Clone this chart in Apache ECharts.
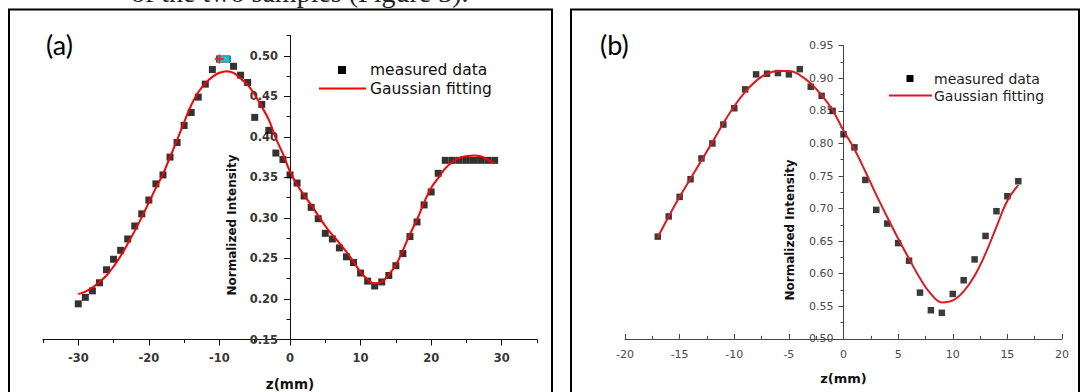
<!DOCTYPE html>
<html><head><meta charset="utf-8">
<script src="https://cdn.jsdelivr.net/npm/echarts@6/dist/echarts.min.js"></script>
<style>html,body{margin:0;padding:0;background:#fff}#c{width:1086px;height:392px}</style>
</head><body><div id="c"></div>
<script>
// ---------- Panel (a) ----------
const zA = [-30,-29,-28,-27,-26,-25,-24,-23,-22,-21,-20,-19,-18,-17,-16,-15,-14,-13,-12,-11,-10,-9,-8,-7,-6,-5,-4,-3,-2,-1,0,1,2,3,4,5,6,7,8,9,10,11,12,13,14,15,16,17,18,19,20,21,22,23,24,25,26,27,28,29];
const measuredA = [0.194,0.202,0.210,0.220,0.236,0.249,0.260,0.274,0.290,0.305,0.322,0.342,0.353,0.375,0.393,0.414,0.430,0.449,0.465,0.483,0.496,0.496,0.487,0.476,0.467,0.424,0.440,0.408,0.380,0.372,0.353,0.343,0.327,0.313,0.299,0.281,0.274,0.263,0.252,0.245,0.232,0.222,0.216,0.221,0.229,0.241,0.256,0.277,0.295,0.316,0.332,0.355,0.371,0.371,0.371,0.371,0.371,0.371,0.371,0.371];
const fitA = [0.206,0.209,0.214,0.221,0.229,0.240,0.253,0.268,0.284,0.301,0.319,0.337,0.354,0.375,0.396,0.418,0.439,0.455,0.466,0.474,0.479,0.481,0.479,0.472,0.464,0.452,0.437,0.421,0.398,0.379,0.357,0.341,0.328,0.316,0.303,0.290,0.279,0.269,0.258,0.246,0.233,0.224,0.219,0.221,0.230,0.242,0.260,0.280,0.298,0.319,0.337,0.349,0.361,0.369,0.374,0.376,0.377,0.376,0.372,0.367];
const xTicksA = [-30,-20,-10,0,10,20,30];
const xMinorA = [-35,-25,-15,-5,5,15,25,35];
const yTicksA = [0.15,0.20,0.25,0.30,0.35,0.40,0.45,0.50];
const yMinorA = [0.175,0.225,0.275,0.325,0.375,0.425,0.475,0.525];
const cursorIndexA = 20; // highlighted (cursor) point at z = -10

// ---------- Panel (b) ----------
const zB = [-17,-16,-15,-14,-13,-12,-11,-10,-9,-8,-7,-6,-5,-4,-3,-2,-1,0,1,2,3,4,5,6,7,8,9,10,11,12,13,14,15,16];
const measuredB = [0.657,0.688,0.718,0.745,0.777,0.800,0.829,0.854,0.883,0.906,0.907,0.908,0.906,0.914,0.887,0.873,0.850,0.814,0.794,0.744,0.698,0.677,0.647,0.620,0.571,0.544,0.540,0.569,0.590,0.622,0.658,0.696,0.719,0.742];
const fitB = [0.656,0.688,0.718,0.746,0.774,0.802,0.831,0.857,0.879,0.896,0.907,0.911,0.911,0.905,0.892,0.874,0.851,0.820,0.791,0.757,0.721,0.687,0.654,0.623,0.593,0.569,0.556,0.559,0.573,0.597,0.631,0.672,0.712,0.736];
const xTicksB = [-20,-15,-10,-5,0,5,10,15,20];
const xMinorB = [-17.5,-12.5,-7.5,-2.5,2.5,7.5,12.5,17.5];
const yTicksB = [0.50,0.55,0.60,0.65,0.70,0.75,0.80,0.85,0.90,0.95];
const yMinorB = [0.525,0.575,0.625,0.675,0.725,0.775,0.825,0.875,0.925];

const legendLabels = ['measured data', 'Gaussian fitting'];
const xTitle = 'z(mm)';
const yTitle = 'Normalized Intensity';
const headerText = 'of the two samples (Figure 3).';

const pairs = (xs, ys) => xs.map((x, i) => [x, ys[i]]);
const FONT = '"DejaVu Sans", "Liberation Sans", Arial, sans-serif';
const W = 1086;

const chart = echarts.init(document.getElementById('c'), null, {renderer: 'svg'});

// grid layouts
const gA = {left: 43, right: 549, top: 35.5, bottom: 52.5};
const gB = {left: 625, right: 24, top: 45.7, bottom: 53.1};
const rangeA = {xmin: -35, xmax: 35, ymin: 0.15, ymax: 0.525};
const rangeB = {xmin: -20, xmax: 20, ymin: 0.50, ymax: 0.95};
// y axis sits at z = 0: shift it inside the grid by the scale position of 0
const zeroOffset = (g, r) => -((0 - r.xmin) / (r.xmax - r.xmin)) * (W - g.left - g.right);

function majorX(grid, ticks, r, o) {
  return {
    gridIndex: grid, type: 'value', min: r.xmin, max: r.xmax, position: 'bottom',
    name: xTitle, nameLocation: 'middle', nameGap: o.nameGap,
    nameTextStyle: {fontFamily: FONT, fontWeight: 'bold', fontSize: o.nameSize, color: '#111'},
    axisLine: {onZero: false, lineStyle: {color: o.lineColor, width: 1}},
    axisTick: {customValues: ticks, length: o.tickLen, inside: o.inside, lineStyle: {color: o.lineColor}},
    axisLabel: {customValues: ticks, margin: o.labelMargin, fontFamily: FONT, fontSize: o.labelSize,
      fontWeight: o.labelWeight, color: o.labelColor, formatter: v => String(v)},
    splitLine: {show: false}
  };
}
function minorX(grid, ticks, r, o) {
  return {
    gridIndex: grid, type: 'value', min: r.xmin, max: r.xmax, position: 'bottom',
    axisLine: {show: false, onZero: false},
    axisTick: {customValues: ticks, length: o.minorLen, inside: o.inside, lineStyle: {color: o.lineColor}},
    axisLabel: {show: false}, splitLine: {show: false}
  };
}
function majorY(grid, ticks, r, off, o) {
  return {
    gridIndex: grid, type: 'value', min: r.ymin, max: r.ymax, position: 'left', offset: off,
    axisLine: {show: true, onZero: false, lineStyle: {color: o.lineColor, width: 1}},
    axisTick: {customValues: ticks, length: o.tickLen, lineStyle: {color: o.lineColor}},
    axisLabel: {customValues: ticks, margin: o.labelMargin, fontFamily: FONT, fontSize: o.labelSize,
      fontWeight: o.labelWeight, color: o.labelColor, formatter: v => v.toFixed(2)},
    splitLine: {show: false}
  };
}
function minorY(grid, ticks, r, off, o) {
  return {
    gridIndex: grid, type: 'value', min: r.ymin, max: r.ymax, position: 'left', offset: off,
    axisLine: {show: false, onZero: false},
    axisTick: {customValues: ticks, length: o.minorLen, lineStyle: {color: o.lineColor}},
    axisLabel: {show: false}, splitLine: {show: false}
  };
}

const styleA = {lineColor: '#111', tickLen: 6, minorLen: 3.5, inside: false, labelMargin: 12,
  labelSize: 11.5, labelWeight: 'bold', labelColor: '#3a3633', nameGap: 37, nameSize: 13.5};
const styleB = {lineColor: '#444', tickLen: 5, minorLen: 3, inside: true, labelMargin: 10,
  labelSize: 11, labelWeight: 'normal', labelColor: '#4a4a4a', nameGap: 33, nameSize: 13};
const offA = zeroOffset(gA, rangeA);
const offB = zeroOffset(gB, rangeB);

const crossPath = 'path://M4,0H6V4H10V6H6V10H4V6H0V4H4Z';

const option = {
  animation: false,
  backgroundColor: '#fff',
  grid: [
    Object.assign({outerBoundsMode: 'none', containLabel: false}, gA),
    Object.assign({outerBoundsMode: 'none', containLabel: false}, gB)
  ],
  xAxis: [
    majorX(0, xTicksA, rangeA, styleA),
    minorX(0, xMinorA, rangeA, styleA),
    majorX(1, xTicksB, rangeB, styleB),
    minorX(1, xMinorB, rangeB, styleB)
  ],
  yAxis: [
    majorY(0, yTicksA, rangeA, offA, styleA),
    minorY(0, yMinorA, rangeA, offA, styleA),
    majorY(1, yTicksB, rangeB, offB, styleB),
    minorY(1, yMinorB, rangeB, offB, styleB)
  ],
  series: [
    {type: 'line', name: legendLabels[1], xAxisIndex: 0, yAxisIndex: 0, data: pairs(zA, fitA),
      smooth: 0.4, symbol: 'none', lineStyle: {color: '#ff0000', width: 2}, z: 3},
    {type: 'scatter', name: legendLabels[0], xAxisIndex: 0, yAxisIndex: 0, data: pairs(zA, measuredA),
      symbol: 'rect', symbolSize: 7, itemStyle: {color: '#000'}, z: 2,
      markPoint: {
        silent: true, label: {show: false},
        data: [
          {coord: [zA[cursorIndexA] + 0.6, measuredA[cursorIndexA]], symbol: 'rect', symbolSize: [13, 6],
            itemStyle: {color: '#19c6d6', borderColor: '#0a7f8a', borderWidth: 1}},
          {coord: [zA[cursorIndexA], measuredA[cursorIndexA]], symbol: crossPath, symbolSize: 9,
            itemStyle: {color: '#ff2020'}}
        ]
      }},
    {type: 'line', name: legendLabels[1], xAxisIndex: 2, yAxisIndex: 2, data: pairs(zB, fitB),
      smooth: 0.4, symbol: 'none', lineStyle: {color: '#e3171d', width: 2}, z: 3},
    {type: 'scatter', name: legendLabels[0], xAxisIndex: 2, yAxisIndex: 2, data: pairs(zB, measuredB),
      symbol: 'rect', symbolSize: 6.5, itemStyle: {color: '#0a0a0a'}, z: 2}
  ],
  graphic: [
    // cropped line of body text above the figure (only its lower edge shows)
    {type: 'text', x: 131, y: 6, style: {text: headerText, font: '28px "Liberation Serif", "DejaVu Serif", serif', fill: '#222', textVerticalAlign: 'bottom'}},
    // panel frames
    {type: 'rect', shape: {x: 9, y: 9.5, width: 543, height: 400}, style: {fill: 'none', stroke: '#000', lineWidth: 2}, silent: true},
    {type: 'rect', shape: {x: 571, y: 9.5, width: 508, height: 400}, style: {fill: 'none', stroke: '#000', lineWidth: 2}, silent: true},
    // panel tags
    {type: 'text', x: 46, y: 44, style: {text: '(a)', font: '27px Lato, "Open Sans", sans-serif', fill: '#000', textVerticalAlign: 'middle'}},
    {type: 'text', x: 600, y: 44, style: {text: '(b)', font: '27px Lato, "Open Sans", sans-serif', fill: '#000', textVerticalAlign: 'middle'}},
    // y titles
    {type: 'text', x: 232, y: 225, rotation: Math.PI / 2, style: {text: yTitle, font: 'bold 12px ' + FONT, fill: '#111', textAlign: 'center', textVerticalAlign: 'middle'}},
    {type: 'text', x: 790, y: 230, rotation: Math.PI / 2, style: {text: yTitle, font: 'bold 12px ' + FONT, fill: '#111', textAlign: 'center', textVerticalAlign: 'middle'}},
    // legend (a)
    {type: 'rect', shape: {x: 338, y: 66, width: 8, height: 8}, style: {fill: '#000'}},
    {type: 'text', x: 370, y: 70, style: {text: legendLabels[0], font: '15.5px ' + FONT, fill: '#111', textVerticalAlign: 'middle'}},
    {type: 'line', shape: {x1: 319, y1: 88.5, x2: 366, y2: 88.5}, style: {stroke: '#ff0000', lineWidth: 2}},
    {type: 'text', x: 370, y: 88.5, style: {text: legendLabels[1], font: '15.5px ' + FONT, fill: '#111', textVerticalAlign: 'middle'}},
    // legend (b)
    {type: 'rect', shape: {x: 906.5, y: 75, width: 7, height: 7}, style: {fill: '#000'}},
    {type: 'text', x: 934, y: 78.5, style: {text: legendLabels[0], font: '14px ' + FONT, fill: '#222', textVerticalAlign: 'middle'}},
    {type: 'line', shape: {x1: 889, y1: 95.5, x2: 932, y2: 95.5}, style: {stroke: '#e3171d', lineWidth: 2}},
    {type: 'text', x: 934, y: 95.5, style: {text: legendLabels[1], font: '14px ' + FONT, fill: '#222', textVerticalAlign: 'middle'}}
  ]
};
chart.setOption(option);
</script>
</body></html>
